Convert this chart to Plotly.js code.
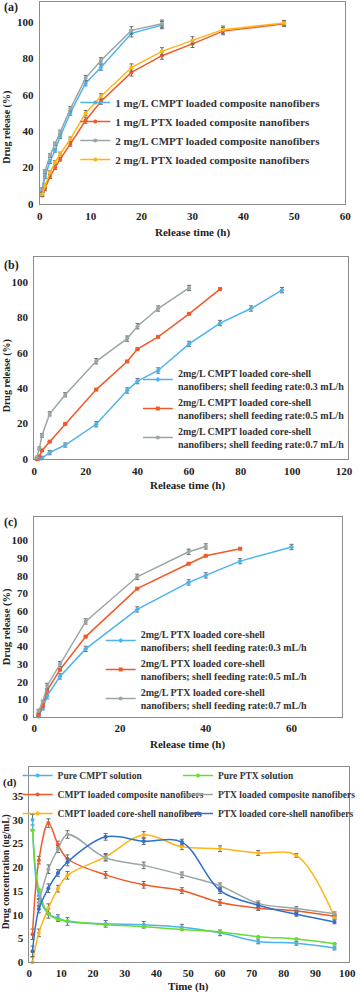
<!DOCTYPE html>
<html>
<head>
<meta charset="utf-8">
<script src="https://cdn.plot.ly/plotly-3.0.1.min.js"></script>
<style>
  body { margin: 0; background: #fff; }
  #chart { width: 361px; height: 992px; }
</style>
</head>
<body>
<div id="chart"></div>
<script>
// ---- data ----
// (a) composite nanofibers
const aTime = [0.5, 1, 2, 3, 4, 6, 9, 12, 18, 24, 30, 36, 48];
const a1CMPT = [7.3, 15, 23.3, 29.5, 37, 50, 66.4, 75, 93.8, 98.3];
const a1PTX = [5, 8.3, 15, 20, 24.6, 33, 45.9, 56.3, 72.3, 81.5, 88, 95, 99];
const a2CMPT = [8, 17.8, 26.6, 33, 39.6, 52.3, 69.2, 78.9, 95.4, 99.1];
const a2PTX = [5.3, 9.9, 17.2, 22.9, 27.5, 35.6, 49.9, 59.1, 75, 83.9, 89.9, 95.8, 99.4];
const aErr = [1, 1, 1, 1, 1, 1.2, 1.5, 1.5, 2, 2, 2, 2, 1.5];

// (b) CMPT core-shell nanofibers
const bTime = [1, 2, 3, 6, 12, 24, 36, 40, 48, 60, 72, 84, 96];
const b03 = [0, 0, 0.5, 3.6, 7.9, 19.6, 38.7, 44, 50, 65, 76.8, 85, 95.4];
const b05 = [0, 1.5, 4.8, 9.8, 19.8, 39.2, 55.1, 62.1, 69, 82, 96];
const b07 = [0.8, 6, 13.3, 25.5, 36.3, 55.2, 68, 75, 85, 96.6];
const bErr = [0.8, 0.8, 1, 1.2, 1.2, 1.5, 1.5, 1.5, 1.5, 1.5, 1.5, 1.5, 1.5];

// (c) PTX core-shell nanofibers
const cTime = [1, 2, 3, 6, 12, 24, 36, 40, 48, 60];
const c03 = [0.4, 5, 11.8, 23, 38.6, 61, 76.3, 80.3, 88.4, 96.4];
const c05 = [1.2, 6.3, 15, 26.8, 45.6, 72.8, 86.9, 91.4, 95.4];
const c07 = [3.4, 8.6, 17.6, 30, 54.2, 79.5, 93.7, 96.7];
const cErr = [1, 1, 1.5, 1.5, 1.5, 1.5, 1.5, 1.5, 1.5, 1.5];

// (d) drug concentration
const dTime = [1, 3, 6, 9, 12, 24, 36, 48, 60, 72, 84, 96];
const dPureCMPT = [30, 14, 10.2, 9.3, 8.6, 8.1, 7.9, 7.4, 6.2, 4.4, 4.0, 3.0];
const dPurePTX = [27.8, 15.3, 10.2, 9.0, 8.7, 7.9, 7.5, 6.9, 6.4, 5.4, 4.9, 3.9];
const dCMPTcomp = [5.9, 21.5, 29.3, 24.8, 21.8, 18.4, 16.3, 15.1, 12.6, 11.4, 10.8, 9.7];
const dPTXcomp = [12.6, 19.6, 23.8, 26.9, 22.0, 20.4, 18.4, 16.1, 12.4, 11.3, 10.2];
const dCMPTcs = [0, 6.2, 11.4, 15.5, 18.3, 22.2, 26.8, 24.3, 23.9, 23.0, 22.5, 9.5];
const dPTXcs = [2.3, 11.2, 15.6, 18.8, 21.1, 26.4, 25.5, 25.3, 15.1, 12.0, 10.1, 8.5];
const dErr = [1.1, 0.8, 0.9, 0.7, 0.8, 0.7, 0.7, 0.6, 0.6, 0.5, 0.4, 0.4];

const W = 361, H = 992;
const fx = px => px / W;
const fy = px => 1 - px / H;

const serif = 'Liberation Serif, Times New Roman, serif';
const lightBlue = '#4db3ee', red = '#f05a28', grey = '#9aa6a8',
      yellow = '#fdb515', green = '#66dd33', darkBlue = '#2f6fd0';

function mk(x, y, err, name, color, symbol, xa, ya, leg, spline) {
  return {
    type: 'scatter', mode: 'lines+markers', name: name,
    x: x.slice(0, y.length), y: y,
    xaxis: xa, yaxis: ya, legend: leg,
    line: {color: color, width: 1.5, shape: spline ? 'spline' : 'linear', smoothing: 1},
    marker: {color: color, size: 4, symbol: symbol},
    error_y: {type: 'data', array: err.slice(0, y.length), color: '#6a6a6a', thickness: 1, width: 2},
    cliponaxis: false
  };
}

const traces = [
  mk(aTime, a1CMPT, aErr, '1 mg/L CMPT loaded composite nanofibers', lightBlue, 'circle', 'x', 'y', 'legend'),
  mk(aTime, a1PTX, aErr, '1 mg/L PTX loaded composite nanofibers', red, 'circle', 'x', 'y', 'legend'),
  mk(aTime, a2CMPT, aErr, '2 mg/L CMPT loaded composite nanofibers', grey, 'circle', 'x', 'y', 'legend'),
  mk(aTime, a2PTX, aErr, '2 mg/L PTX loaded composite nanofibers', yellow, 'circle', 'x', 'y', 'legend'),

  mk(bTime, b03, bErr, '2mg/L CMPT loaded core-shell<br>nanofibers; shell feeding rate:0.3 mL/h', lightBlue, 'diamond', 'x2', 'y2', 'legend2'),
  mk(bTime, b05, bErr.map(() => 0), '2mg/L CMPT loaded core-shell<br>nanofibers; shell feeding rate:0.5 mL/h', red, 'square', 'x2', 'y2', 'legend2'),
  mk(bTime, b07, bErr, '2mg/L CMPT loaded core-shell<br>nanofibers; shell feeding rate:0.7 mL/h', grey, 'circle', 'x2', 'y2', 'legend2'),

  mk(cTime, c03, cErr, '2mg/L PTX loaded core-shell<br>nanofibers; shell feeding rate:0.3 mL/h', lightBlue, 'diamond', 'x3', 'y3', 'legend3'),
  mk(cTime, c05, cErr.map(() => 0), '2mg/L PTX loaded core-shell<br>nanofibers; shell feeding rate:0.5 mL/h', red, 'square', 'x3', 'y3', 'legend3'),
  mk(cTime, c07, cErr, '2mg/L PTX loaded core-shell<br>nanofibers; shell feeding rate:0.7 mL/h', grey, 'circle', 'x3', 'y3', 'legend3'),

  // (d): left legend column is CMPT, right column is PTX
  mk(dTime, dPureCMPT, dErr, 'Pure CMPT solution', lightBlue, 'circle', 'x4', 'y4', 'legend4', true),
  mk(dTime, dCMPTcomp, dErr, 'CMPT loaded composite nanofibers', red, 'circle', 'x4', 'y4', 'legend4', true),
  mk(dTime, dCMPTcs, dErr, 'CMPT loaded core-shell nanofibers', yellow, 'circle', 'x4', 'y4', 'legend4', true),
  mk(dTime, dPurePTX, dErr.map(() => 0), 'Pure PTX solution', green, 'circle', 'x4', 'y4', 'legend5', true),
  mk(dTime.slice(1), dPTXcomp, dErr.slice(1), 'PTX loaded composite nanofibers', grey, 'circle', 'x4', 'y4', 'legend5', true),
  mk(dTime, dPTXcs, dErr, 'PTX loaded core-shell nanofibers', darkBlue, 'circle', 'x4', 'y4', 'legend5', true)
];

const tickFont = {family: serif, size: 11, color: '#222'};

function xax(l, r, range, dtick, anchor, lblOff) {
  return {
    domain: [fx(l), fx(r)], range: range, dtick: dtick, tick0: 0, anchor: anchor,
    showgrid: false, zeroline: false, showline: true, mirror: true,
    linecolor: '#8c8c8c', linewidth: 1, ticks: '', ticklabelstandoff: lblOff,
    tickfont: tickFont, fixedrange: true
  };
}
function yax(t, b, range, tickvals, anchor) {
  return {
    domain: [fy(b), fy(t)], range: range, tickvals: tickvals, anchor: anchor,
    showgrid: false, zeroline: false, showline: true, mirror: true,
    linecolor: '#8c8c8c', linewidth: 1, ticks: '', ticklabelstandoff: 3,
    tickfont: tickFont, fixedrange: true
  };
}

function legendAt(xpx, ypx, size, extra) {
  return Object.assign({
    x: fx(xpx), y: fy(ypx), xanchor: 'left', yanchor: 'top',
    bgcolor: 'rgba(0,0,0,0)', borderwidth: 0, itemwidth: 30,
    font: {family: serif, size: size, color: '#333', weight: 'bold'}
  }, extra || {});
}

function label(text, xpx, ypx, size, angle) {
  return {
    text: text, xref: 'paper', yref: 'paper', x: fx(xpx), y: fy(ypx),
    xanchor: 'center', yanchor: 'middle', showarrow: false, textangle: angle || 0,
    font: {family: serif, size: size, color: '#222', weight: 'bold'}
  };
}

const layout = {
  width: W, height: H,
  margin: {l: 0, r: 0, t: 0, b: 0},
  paper_bgcolor: '#fff', plot_bgcolor: '#fff',
  showlegend: true,
  font: {family: serif, weight: 'bold'},

  xaxis: xax(40.7, 353, [0, 60], 10, 'y', 2),
  yaxis: yax(2, 204, [0, 111], [0, 20, 40, 60, 80, 100], 'x'),
  xaxis2: xax(35, 356, [0, 121.6], 20, 'y2', 2),
  yaxis2: yax(257, 459, [0, 114.1], [0, 20, 40, 60, 80, 100], 'x2'),
  xaxis3: xax(35, 350, [0, 71.8], 20, 'y3', 1),
  yaxis3: yax(517, 717, [0, 113.4], [0, 10, 20, 30, 40, 50, 60, 70, 80, 90, 100], 'x3'),
  xaxis4: xax(30, 356.7, [0, 100.5], 10, 'y4', 0),
  yaxis4: yax(767, 962.3, [0, 41.1], [0, 5, 10, 15, 20, 25, 30, 35], 'x4'),

  legend: legendAt(77, 88, 11),
  legend2: legendAt(141, 360, 10, {tracegroupgap: 3}),
  legend3: legendAt(103, 621, 10, {tracegroupgap: 3}),
  legend4: legendAt(18, 761, 9.5),
  legend5: legendAt(182, 761, 9.5),

  annotations: [
    label('(a)', 11, 7, 12),
    label('(b)', 12, 265, 12),
    label('(c)', 11, 522, 12),
    label('(d)', 10, 782, 11),
    label('Drug release (%)', 7, 127, 10, -90),
    label('Drug release (%)', 7.5, 376, 10, -90),
    label('Drug release (%)', 7.5, 627, 10.5, -90),
    label('Drug concentration (ug/mL)', 6.5, 872, 9.5, -90),
    label('Release time (h)', 197, 232.5, 11),
    label('Release time (h)', 192, 485, 11),
    label('Release time (h)', 192, 744, 11),
    label('Time (h)', 192.5, 986, 11)
  ]
};

Plotly.newPlot('chart', traces, layout, {staticPlot: true, displayModeBar: false});
</script>
</body>
</html>
